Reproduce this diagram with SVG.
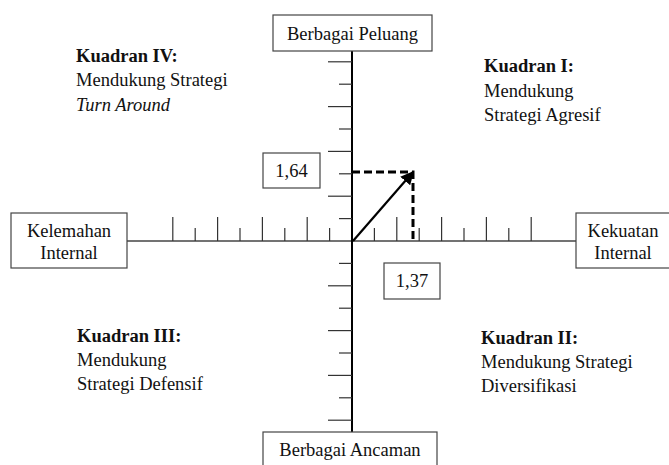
<svg xmlns="http://www.w3.org/2000/svg" width="669" height="465" viewBox="0 0 669 465">
<defs>
<style>
.box{fill:#fff;stroke:#444;stroke-width:1.2}
.t{font-family:"Liberation Serif","Times New Roman",serif;font-size:18.5px;fill:#111}
.c{text-anchor:middle}
.b{font-weight:bold}
.i{font-style:italic}
.tick{stroke:#333;stroke-width:1.2}
.dash{stroke:#000;stroke-width:3;stroke-dasharray:8,4;fill:none}
</style>
<marker id="ah" viewBox="0 0 10 10" refX="9" refY="5" markerWidth="6" markerHeight="6" orient="auto" markerUnits="strokeWidth">
<path d="M0,0 L10,5 L0,10 Z" fill="#000"/>
</marker>
</defs>
<rect width="669" height="465" fill="#fff"/>
<g id="connectors">
<line x1="127" y1="241" x2="576" y2="241" stroke="#444" stroke-width="1.4"/>
<line x1="352" y1="51" x2="352" y2="432" stroke="#000" stroke-width="2"/>
<g class="tick">
<line x1="172.8" y1="241" x2="172.8" y2="217"/>
<line x1="195.2" y1="241" x2="195.2" y2="228"/>
<line x1="217.6" y1="241" x2="217.6" y2="217"/>
<line x1="240" y1="241" x2="240" y2="228"/>
<line x1="262.4" y1="241" x2="262.4" y2="217"/>
<line x1="284.8" y1="241" x2="284.8" y2="228"/>
<line x1="307.2" y1="241" x2="307.2" y2="217"/>
<line x1="329.6" y1="241" x2="329.6" y2="228"/>
<line x1="374.4" y1="241" x2="374.4" y2="228"/>
<line x1="396.8" y1="241" x2="396.8" y2="217"/>
<line x1="419.2" y1="241" x2="419.2" y2="228"/>
<line x1="441.6" y1="241" x2="441.6" y2="217"/>
<line x1="464" y1="241" x2="464" y2="228"/>
<line x1="486.4" y1="241" x2="486.4" y2="217"/>
<line x1="508.8" y1="241" x2="508.8" y2="228"/>
<line x1="531.2" y1="241" x2="531.2" y2="217"/>
<line x1="328" y1="61.8" x2="352" y2="61.8"/>
<line x1="339" y1="84.2" x2="352" y2="84.2"/>
<line x1="328" y1="106.6" x2="352" y2="106.6"/>
<line x1="339" y1="129" x2="352" y2="129"/>
<line x1="328" y1="151.4" x2="352" y2="151.4"/>
<line x1="339" y1="173.8" x2="352" y2="173.8"/>
<line x1="328" y1="196.2" x2="352" y2="196.2"/>
<line x1="339" y1="218.6" x2="352" y2="218.6"/>
<line x1="339" y1="263.4" x2="352" y2="263.4"/>
<line x1="328" y1="285.8" x2="352" y2="285.8"/>
<line x1="339" y1="308.2" x2="352" y2="308.2"/>
<line x1="328" y1="330.6" x2="352" y2="330.6"/>
<line x1="339" y1="353" x2="352" y2="353"/>
<line x1="328" y1="375.4" x2="352" y2="375.4"/>
<line x1="339" y1="397.8" x2="352" y2="397.8"/>
<line x1="328" y1="420.2" x2="352" y2="420.2"/>
</g>
<polyline class="dash" points="352,172 413,172 413,242"/>
<line x1="353" y1="241" x2="413" y2="172" stroke="#000" stroke-width="2.2" marker-end="url(#ah)"/>
</g>
<g id="peluang">
<rect class="box" x="273" y="15" width="159" height="36"/>
<text class="t c" x="352.5" y="40">Berbagai Peluang</text>
</g>
<g id="ancaman">
<rect class="box" x="263" y="432" width="174" height="40"/>
<text class="t c" x="350" y="456">Berbagai Ancaman</text>
</g>
<g id="kelemahan">
<rect class="box" x="11" y="213" width="116" height="55"/>
<text class="t c" x="69" y="237">Kelemahan</text>
<text class="t c" x="69" y="259">Internal</text>
</g>
<g id="kekuatan">
<rect class="box" x="576" y="213" width="100" height="55"/>
<text class="t c" x="623" y="237">Kekuatan</text>
<text class="t c" x="623" y="259">Internal</text>
</g>
<g id="val164">
<rect class="box" x="263" y="153" width="57" height="35"/>
<text class="t c" x="291.5" y="177">1,64</text>
</g>
<g id="val137">
<rect class="box" x="384" y="263" width="56" height="36"/>
<text class="t c" x="412" y="287">1,37</text>
</g>
<g id="kuadran4">
<text class="t b" x="76" y="61.5">Kuadran IV:</text>
<text class="t" x="76" y="86">Mendukung Strategi</text>
<text class="t i" x="76" y="110.5">Turn Around</text>
</g>
<g id="kuadran1">
<text class="t b" x="484" y="72">Kuadran I:</text>
<text class="t" x="484" y="97">Mendukung</text>
<text class="t" x="484" y="121">Strategi Agresif</text>
</g>
<g id="kuadran3">
<text class="t b" x="77" y="342">Kuadran III:</text>
<text class="t" x="77" y="366">Mendukung</text>
<text class="t" x="77" y="390">Strategi Defensif</text>
</g>
<g id="kuadran2">
<text class="t b" x="481" y="344">Kuadran II:</text>
<text class="t" x="481" y="368">Mendukung Strategi</text>
<text class="t" x="481" y="392">Diversifikasi</text>
</g>
</svg>
